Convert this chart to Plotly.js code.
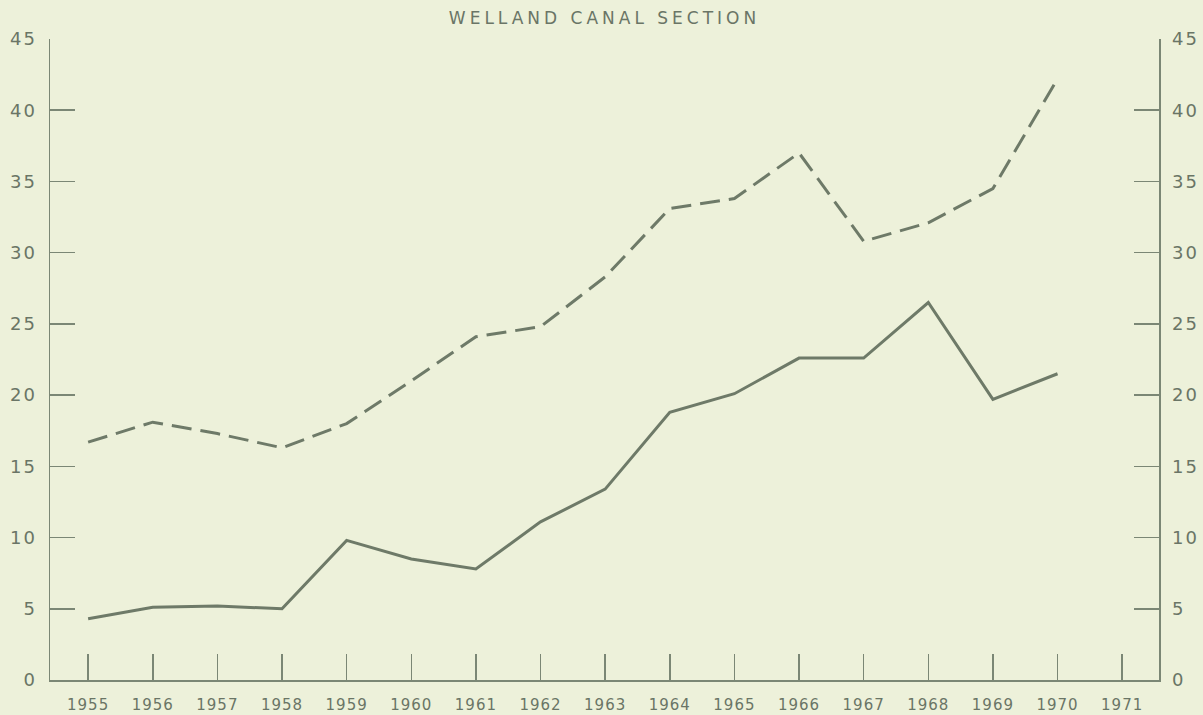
<!DOCTYPE html>
<html>
<head>
<meta charset="utf-8">
<script src="https://cdn.plot.ly/plotly-3.0.1.min.js"></script>
<style>
  html, body { margin: 0; padding: 0; background: #edf1da; }
  #chart { width: 1203px; height: 715px; }
  .gtitle { letter-spacing: 4px; }
  .xtick text { letter-spacing: 1px; }
  .ytick text, .y2tick text { letter-spacing: 2px; }
</style>
</head>
<body>
<div id="chart"></div>
<script>
// Data
const years = [1955, 1956, 1957, 1958, 1959, 1960, 1961, 1962, 1963, 1964, 1965, 1966, 1967, 1968, 1969, 1970];
const solidSeries = [4.3, 5.1, 5.2, 5.0, 9.8, 8.5, 7.8, 11.1, 13.4, 18.8, 20.1, 22.6, 22.6, 26.5, 19.7, 21.5];
const dashedSeries = [16.7, 18.1, 17.3, 16.3, 18.0, 21.0, 24.1, 24.8, 28.3, 33.1, 33.8, 37.0, 30.8, 32.1, 34.5, 42.2];
const xTickYears = [1955, 1956, 1957, 1958, 1959, 1960, 1961, 1962, 1963, 1964, 1965, 1966, 1967, 1968, 1969, 1970, 1971];
const xTickLabels = ['1955', '1956', '1957', '1958', '1959', '1960', '1961', '1962', '1963', '1964', '1965', '1966', '1967', '1968', '1969', '1970', '1971'];
const yTickVals = [0, 5, 10, 15, 20, 25, 30, 35, 40, 45];
const titleText = 'WELLAND CANAL SECTION';

const ink = '#6e7a68';
const axisInk = '#7b8775';
const textInk = '#6a7566';
const bg = '#edf1da';

const traces = [
  {
    x: years, y: solidSeries, type: 'scatter', mode: 'lines',
    line: { color: ink, width: 3 }, hoverinfo: 'x+y', showlegend: false
  },
  {
    x: years, y: dashedSeries, type: 'scatter', mode: 'lines', yaxis: 'y2',
    line: { color: ink, width: 3, dash: '20px,9px' }, hoverinfo: 'x+y', showlegend: false
  }
];

const yCommon = {
  range: [0, 45],
  tickvals: yTickVals,
  ticktext: yTickVals.map(String),
  ticks: 'inside',
  ticklen: 25,
  tickwidth: 1.5,
  tickcolor: axisInk,
  showline: true,
  linecolor: axisInk,
  linewidth: 1.5,
  showgrid: false,
  zeroline: false,
  fixedrange: true,
  ticklabelstandoff: 8,
  tickfont: { family: 'DejaVu Sans, sans-serif', size: 18, color: textInk }
};

const layout = {
  width: 1203,
  height: 715,
  paper_bgcolor: bg,
  plot_bgcolor: bg,
  margin: { l: 50, r: 44, t: 39, b: 35, pad: 0 },
  title: {
    text: titleText,
    x: 0.5, xanchor: 'center', xref: 'paper',
    y: 1 - 18 / 715, yanchor: 'middle', yref: 'container',
    font: { family: 'DejaVu Sans, sans-serif', size: 17, color: textInk }
  },
  xaxis: {
    range: [1954.41, 1971.57],
    tickvals: xTickYears,
    ticktext: xTickLabels,
    ticks: 'inside',
    ticklen: 26,
    tickwidth: 1.5,
    tickcolor: axisInk,
    showline: true,
    linecolor: axisInk,
    linewidth: 2,
    showgrid: false,
    zeroline: false,
    fixedrange: true,
    ticklabelstandoff: 10,
    tickfont: { family: 'DejaVu Sans, sans-serif', size: 15, color: textInk }
  },
  yaxis: Object.assign({}, yCommon, { side: 'left' }),
  yaxis2: Object.assign({}, yCommon, { side: 'right', overlaying: 'y' }),
  showlegend: false
};

Plotly.newPlot('chart', traces, layout, { displayModeBar: false, staticPlot: true });
</script>
</body>
</html>
